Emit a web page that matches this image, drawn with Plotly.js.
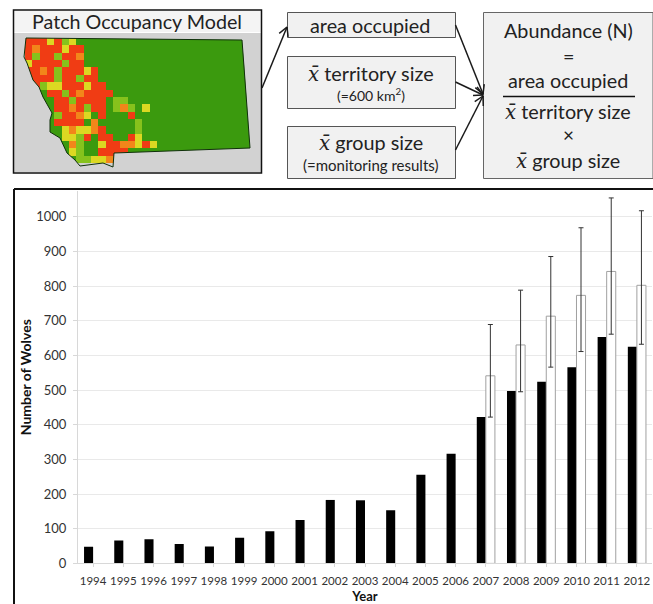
<!DOCTYPE html>
<html><head><meta charset="utf-8">
<script src="https://cdn.plot.ly/plotly-3.0.1.min.js"></script>
<style>html,body{margin:0;padding:0;background:#fff}#c{width:653px;height:604px}</style>
</head><body><div id="c"></div>
<script>
const years = ['1994','1995','1996','1997','1998','1999','2000','2001','2002','2003','2004','2005','2006','2007','2008','2009','2010','2011','2012'];
const minimumCount = [48,66,70,56,49,74,93,125,183,182,153,256,316,422,497,524,566,653,625];
const estimate = [null,null,null,null,null,null,null,null,null,null,null,null,null,541,630,713,773,842,802];
const errPlus = [null,null,null,null,null,null,null,null,null,null,null,null,null,148,158,172,195,212,215];
const errMinus = [null,null,null,null,null,null,null,null,null,null,null,null,null,119,135,147,162,181,170];

// Occupancy classes: . green, g light green, y yellow, o orange, r red
const mapRows = [
 'rrryrgy',
 'rorrryrr',
 'rgrrgrro',
 'yrrrrgrr',
 'rrorgrrryr',
 'rrrrgrrgrr',
 '.rgyyrrryrr',
 '...rrgrorrrr',
 '....rrgrrrr.gg',
 '....rrorgrr.gog.y',
 '....grroy.r...r',
 '....rrrr.o.....g',
 '.....yoyyor....g',
 '.....yygr.rr..ry',
 '......og..yrrooyry',
 '......yg..rrrr',
 '.......ggyyor'
];
const mapCols = 31;
const classValue = {'.':0,'g':1,'y':2,'o':3,'r':4};
const mapZ = mapRows.map(r => { const a = []; for (let i = 0; i < mapCols; i++) a.push(classValue[r[i] || '.']); return a; });

const stateX = [26,24,27,33,39,43,52,50,50,60,67,75,80,93,103,113,114,250,244,242,26];
const stateY = [38,57,63,80,87,97,113,120,132,138,153,160,166,164,163,167,153,148,64,40,38];
const frameX = [14,262,262,14,14];
const frameY = [33,33,172,172,33];

const W = 653, H = 604;
const px = x => x / W, py = y => 1 - y / H;
const rect = (x0,y0,x1,y1,fill,line,w,layer) => ({type:'rect',xref:'paper',yref:'paper',x0:px(x0),x1:px(x1),y0:py(y0),y1:py(y1),fillcolor:fill,line:{color:line,width:w},layer:layer||'above'});
const seg = (x0,y0,x1,y1,c,w) => ({type:'line',xref:'paper',yref:'paper',x0:px(x0),x1:px(x1),y0:py(y0),y1:py(y1),line:{color:c,width:w}});
const arrow = (x0,y0,x1,y1) => {
  const a = Math.atan2(y1-y0,x1-x0), L = 10, s = 0.5;
  return [seg(x0,y0,x1,y1,'#1a1a1a',1.5),
          seg(x1,y1,x1-L*Math.cos(a-s),y1-L*Math.sin(a-s),'#1a1a1a',1.5),
          seg(x1,y1,x1-L*Math.cos(a+s),y1-L*Math.sin(a+s),'#1a1a1a',1.5)];
};
const FONT = 'Lato, "Open Sans", sans-serif';
const note = (x,y,text,size,color) => ({xref:'paper',yref:'paper',x:px(x),y:py(y),text,showarrow:false,xanchor:'center',yanchor:'middle',font:{family:FONT,size,color:color||'#222'}});
const XB = '<span style="font-family:\'DejaVu Serif\'"><i>x̄</i></span>';

const traces = [
 {type:'bar',name:'Minimum count',x:years,y:minimumCount,marker:{color:'#000',line:{width:0}},xaxis:'x',yaxis:'y'},
 {type:'bar',name:'Estimate',x:years,y:estimate,marker:{color:'#fff',line:{color:'#a0a0a0',width:1}},xaxis:'x',yaxis:'y',
  error_y:{type:'data',symmetric:false,array:errPlus,arrayminus:errMinus,color:'#333',thickness:1,width:2.5}},
 {type:'heatmap',z:mapZ,x0:28.7,dx:7.33,y0:41.7,dy:7.33,zmin:0,zmax:4,showscale:false,hoverinfo:'skip',xaxis:'x2',yaxis:'y2',
  colorscale:[[0,'#3b9a0e'],[0.125,'#3b9a0e'],[0.125,'#86c21c'],[0.375,'#86c21c'],[0.375,'#dcd822'],[0.625,'#dcd822'],[0.625,'#f2861a'],[0.875,'#f2861a'],[0.875,'#f03c14'],[1,'#f03c14']]},
 {type:'scatter',mode:'none',fill:'toself',fillcolor:'#d2d2d2',hoverinfo:'skip',xaxis:'x2',yaxis:'y2',
  x:frameX.concat(stateX).concat([frameX[0]]),y:frameY.concat(stateY).concat([frameY[0]])},
 {type:'scatter',mode:'lines',x:stateX,y:stateY,line:{color:'#10300a',width:1},hoverinfo:'skip',xaxis:'x2',yaxis:'y2'}
];

const shapes = [
  rect(14,33,262,172,'#d2d2d2','rgba(0,0,0,0)',0,'below'),
  rect(14,11,262,32,'#f4f4f4','rgba(0,0,0,0)',0,'below'),
  rect(13.5,10,261.5,173,'rgba(0,0,0,0)','#111',1.5),
  rect(287.5,12.5,455.5,37.5,'#f1f1f1','#555',1),
  rect(287.5,56.5,455.5,108.5,'#f1f1f1','#555',1),
  rect(287.5,126.5,455.5,178.5,'#f1f1f1','#555',1),
  rect(483.5,12.5,653,178.5,'#f1f1f1','#666',1),
  seg(503,96.5,635,96.5,'#111',1.5),
  seg(14,189,653,189,'#111',2),
  seg(14,189,14,604,'#111',2),
  ...arrow(262,88,287,27),
  ...arrow(455.5,25,483,94),
  ...arrow(455.5,82,483,95),
  ...arrow(455.5,150,483,96)
];

const annotations = [
  note(137,22,'Patch Occupancy Model',19.7),
  note(370,25,'area occupied',19.8),
  note(371,73,XB+' territory size',19.8),
  note(371,95,'(=600 km<sup>2</sup>)',14),
  note(371,143,XB+' group size',19.8),
  note(371,165,'(=monitoring results)',15),
  note(568,30,'Abundance (N)',19.8),
  note(568,56,'=',19.8),
  note(568,80,'area occupied',19.8),
  note(568,111,XB+' territory size',19.8),
  note(568,135,'×',19),
  note(568,160,XB+' group size',19.8)
];

const layout = {
  width:W,height:H,margin:{l:0,r:0,t:0,b:0},paper_bgcolor:'#fff',plot_bgcolor:'rgba(0,0,0,0)',
  showlegend:false,barmode:'group',bargap:0.4,bargroupgap:0,
  font:{family:FONT,color:'#333'},
  xaxis:{type:'category',domain:[78/W,652/W],anchor:'y',range:[-0.5,18.5],showgrid:false,ticks:'outside',ticklen:3,tickcolor:'#d8d8d8',
         linecolor:'#d8d8d8',showline:true,tickangle:0,ticklabelstandoff:4,tickfont:{size:11.5,color:'#333',family:FONT},
         title:{text:'Year',font:{size:13,color:'#111',family:FONT,weight:'bold'},standoff:12}},
  yaxis:{domain:[(H-563.4)/H,(H-191)/H],anchor:'x',range:[0,1074],tickvals:[0,100,200,300,400,500,600,700,800,900,1000],
         gridcolor:'#e9e9e9',gridwidth:1,zeroline:false,showline:true,linecolor:'#d8d8d8',ticks:'outside',ticklen:4,tickcolor:'#d8d8d8',
         ticklabelstandoff:4,tickfont:{size:13,color:'#333',family:FONT},
         title:{text:'Number of Wolves',font:{size:14,color:'#111',family:FONT,weight:'bold'},standoff:1}},
  xaxis2:{domain:[14/W,262/W],anchor:'y2',range:[14,262],visible:false,fixedrange:true},
  yaxis2:{domain:[(H-172)/H,(H-33)/H],anchor:'x2',range:[172,33],visible:false,fixedrange:true},
  shapes,annotations
};
Plotly.newPlot('c',traces,layout,{displayModeBar:false,responsive:false});
</script></body></html>
